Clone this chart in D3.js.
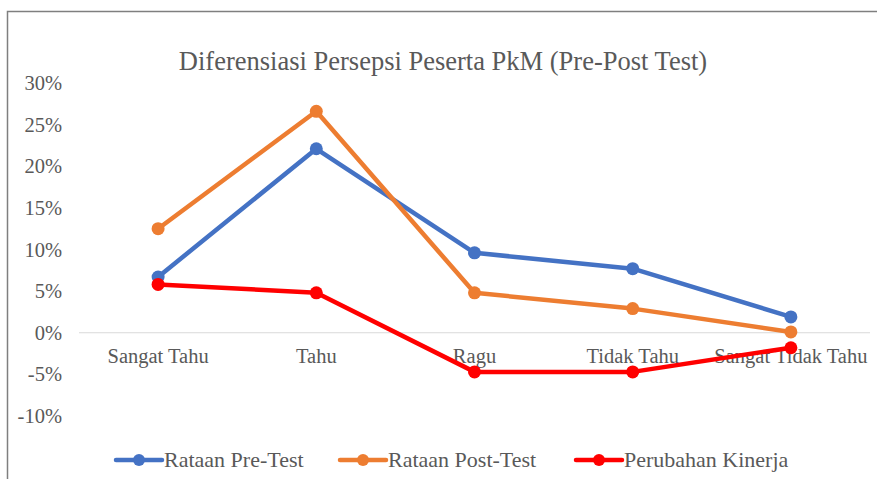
<!DOCTYPE html>
<html><head><meta charset="utf-8">
<script src="https://cdn.jsdelivr.net/npm/d3@7"></script>
<style>body{margin:0;background:#fff}svg{display:block}svg text{font-family:"Liberation Serif","Times New Roman",serif}</style>
</head><body>
<svg id="c" width="877" height="479"></svg>
<script>
const categories = ["Sangat Tahu","Tahu","Ragu","Tidak Tahu","Sangat Tidak Tahu"];
const preTest = [0.067, 0.221, 0.096, 0.077, 0.019];
const postTest = [0.125, 0.266, 0.048, 0.029, 0.001];
const perubahan = [0.058, 0.048, -0.047, -0.047, -0.018];
const yTicks = [0.30,0.25,0.20,0.15,0.10,0.05,0,-0.05,-0.10];
const seriesNames = ["Rataan Pre-Test","Rataan Post-Test","Perubahan Kinerja"];
const colors = ["#4472C4","#ED7D31","#FF0000"];

const svg = d3.select("#c");
svg.append("path").attr("d","M7.5,479 V11.5 H877").attr("fill","none").attr("stroke","#7f7f7f").attr("stroke-width",1.5);

const x = d3.scaleBand().domain(categories).range([79,870]);
const y = d3.scaleLinear().domain([-0.10,0.30]).range([416,83]);
const pct = d3.formatLocale({decimal:".",thousands:",",grouping:[3],currency:["",""],minus:"-"}).format(".0%");

svg.append("text").attr("x",443).attr("y",70).attr("text-anchor","middle")
  .attr("font-size",26.5).attr("fill","#595959")
  .text("Diferensiasi Persepsi Peserta PkM (Pre-Post Test)");

const yAxis = svg.append("g").attr("transform","translate(62,0)")
  .call(d3.axisLeft(y).tickValues(yTicks).tickFormat(pct).tickSize(0).tickPadding(0));
yAxis.select(".domain").remove();
yAxis.selectAll("text").attr("font-family",null).attr("font-size",20.5).attr("fill","#595959");

svg.append("line").attr("x1",79).attr("x2",870).attr("y1",y(0)).attr("y2",y(0))
  .attr("stroke","#d9d9d9").attr("stroke-width",1);

const xAxis = svg.append("g").attr("transform",`translate(0,${y(0)})`)
  .call(d3.axisBottom(x).tickSize(0).tickPadding(16));
xAxis.select(".domain").remove();
xAxis.selectAll("text").attr("font-family",null).attr("font-size",20.5).attr("fill","#595959");

const data = [preTest, postTest, perubahan];
const line = d3.line().x((d,i)=>x(categories[i])+x.bandwidth()/2).y(d=>y(d));
data.forEach((s,k)=>{
  const g = svg.append("g");
  g.append("path").attr("d",line(s)).attr("fill","none").attr("stroke",colors[k]).attr("stroke-width",4.5).attr("stroke-linejoin","round");
  g.selectAll("circle").data(s).join("circle")
    .attr("cx",(d,i)=>x(categories[i])+x.bandwidth()/2).attr("cy",d=>y(d)).attr("r",6.5).attr("fill",colors[k]);
});

const legX = [116, 340, 576];
seriesNames.forEach((n,k)=>{
  const g = svg.append("g").attr("transform",`translate(${legX[k]},460)`);
  g.append("line").attr("x1",0).attr("x2",46).attr("stroke",colors[k]).attr("stroke-width",4.5).attr("stroke-linecap","round");
  g.append("circle").attr("cx",23).attr("r",6).attr("fill",colors[k]);
  g.append("text").attr("x",48).attr("y",7).attr("font-size",22).attr("fill","#595959").text(n);
});
</script>
</body></html>
